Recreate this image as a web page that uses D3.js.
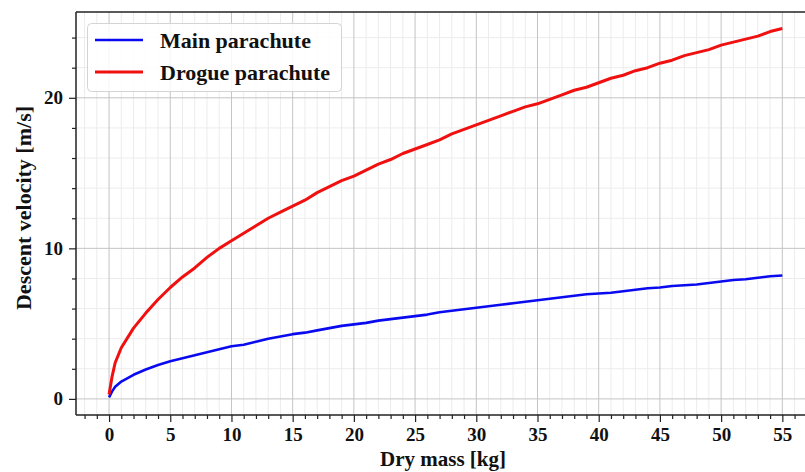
<!DOCTYPE html>
<html><head><meta charset="utf-8">
<script src="https://cdn.jsdelivr.net/npm/d3@7"></script>
<style>body{margin:0;background:#fff}svg{display:block}</style>
</head><body><svg id="c" width="805" height="472"></svg>
<script>
const mass = [0,0.25,0.5,1,2,3,4,5,6,7,8,9,10,11,12,13,14,15,16,17,18,19,20,21,22,23,24,25,26,27,28,29,30,31,32,33,34,35,36,37,38,39,40,41,42,43,44,45,46,47,48,49,50,51,52,53,54,55];
const mainVel = [0.1,0.5,0.8,1.15,1.6,1.95,2.25,2.5,2.7,2.9,3.1,3.3,3.5,3.6,3.8,4.0,4.15,4.3,4.4,4.55,4.7,4.85,4.95,5.05,5.2,5.3,5.4,5.5,5.6,5.75,5.85,5.95,6.05,6.15,6.25,6.35,6.45,6.55,6.65,6.75,6.85,6.95,7.0,7.05,7.15,7.25,7.35,7.4,7.5,7.55,7.6,7.7,7.8,7.9,7.95,8.05,8.15,8.2];
const drogueVel = [0.3,1.5,2.4,3.4,4.7,5.7,6.6,7.4,8.1,8.7,9.4,10.0,10.5,11.0,11.5,12.0,12.4,12.8,13.2,13.7,14.1,14.5,14.8,15.2,15.6,15.9,16.3,16.6,16.9,17.2,17.6,17.9,18.2,18.5,18.8,19.1,19.4,19.6,19.9,20.2,20.5,20.7,21.0,21.3,21.5,21.8,22.0,22.3,22.5,22.8,23.0,23.2,23.5,23.7,23.9,24.1,24.4,24.6];
const xTicks = [0,5,10,15,20,25,30,35,40,45,50,55];
const yTicks = [0,10,20];
const seriesNames = ["Main parachute","Drogue parachute"];
const seriesColors = ["#0a0af0","#f01010"];

const svg = d3.select("#c");
const L=76, R=816, T=12, B=415;
const x = d3.scaleLinear().domain([-2.7,57.75]).range([L,R]);
const y = d3.scaleLinear().domain([-1.07,25.7]).range([B,T]);
const font = "'Liberation Serif','Times New Roman',serif";

svg.append("defs").append("clipPath").attr("id","clip").append("rect")
  .attr("x",L).attr("y",T).attr("width",R-L).attr("height",B-T);

const g = svg.append("g");
// minor grid
const xMinor = d3.range(-2,58,1).filter(v=>v%5!==0);
const yMinor = d3.range(-0,26,2).filter(v=>v%10!==0);
g.selectAll(".xm").data(xMinor).join("line").attr("x1",d=>x(d)).attr("x2",d=>x(d)).attr("y1",T).attr("y2",B)
  .attr("stroke","#ececec").attr("stroke-width",1);
g.selectAll(".ym").data(yMinor).join("line").attr("y1",d=>y(d)).attr("y2",d=>y(d)).attr("x1",L).attr("x2",R)
  .attr("stroke","#ececec").attr("stroke-width",1);
// major grid
g.selectAll(".xM").data(xTicks).join("line").attr("x1",d=>x(d)).attr("x2",d=>x(d)).attr("y1",T).attr("y2",B)
  .attr("stroke","#c4c4c4").attr("stroke-width",1);
g.selectAll(".yM").data(yTicks).join("line").attr("y1",d=>y(d)).attr("y2",d=>y(d)).attr("x1",L).attr("x2",R)
  .attr("stroke","#c4c4c4").attr("stroke-width",1);

// lines
const line = d3.line().x((d,i)=>x(mass[i])).y(d=>y(d));
const lg = svg.append("g").attr("clip-path","url(#clip)");
lg.append("path").datum(mainVel).attr("d",line).attr("fill","none").attr("stroke",seriesColors[0]).attr("stroke-width",2.6).attr("stroke-linejoin","round");
lg.append("path").datum(drogueVel).attr("d",line).attr("fill","none").attr("stroke",seriesColors[1]).attr("stroke-width",3).attr("stroke-linejoin","round");

// axes
const xAxis = d3.axisBottom(x).tickValues(xTicks).tickSize(7).tickPadding(6).tickFormat(d3.format("d"));
const xa = svg.append("g").attr("transform",`translate(0,${B})`).call(xAxis);
const xMinorAxis = d3.axisBottom(x).tickValues(xMinor).tickSize(4).tickFormat("");
svg.append("g").attr("transform",`translate(0,${B})`).call(xMinorAxis).call(s=>s.select(".domain").remove());
const yAxis = d3.axisLeft(y).tickValues(yTicks).tickSize(7).tickPadding(6).tickFormat(d3.format("d"));
const ya = svg.append("g").attr("transform",`translate(${L},0)`).call(yAxis);
const yMinorAxis = d3.axisLeft(y).tickValues(yMinor).tickSize(4).tickFormat("");
svg.append("g").attr("transform",`translate(${L},0)`).call(yMinorAxis).call(s=>s.select(".domain").remove());
svg.selectAll(".tick line").attr("stroke","#222").attr("stroke-width",1.2);
[xa,ya].forEach(a=>{a.select(".domain").remove();
  a.selectAll("text").attr("font-family",font).attr("font-weight","bold").attr("font-size",19).attr("fill","#111");});
// spines
svg.append("line").attr("x1",L).attr("x2",L).attr("y1",T).attr("y2",B).attr("stroke","#222").attr("stroke-width",1.5);
svg.append("line").attr("x1",L).attr("x2",R).attr("y1",B).attr("y2",B).attr("stroke","#222").attr("stroke-width",1.5);
svg.append("line").attr("x1",L).attr("x2",R).attr("y1",T).attr("y2",T).attr("stroke","#222").attr("stroke-width",1.5);

// axis labels
svg.append("text").attr("x",443).attr("y",466).attr("text-anchor","middle")
  .attr("font-family",font).attr("font-weight","bold").attr("font-size",21).attr("fill","#111").text("Dry mass [kg]");
svg.append("text").attr("transform","translate(31,208) rotate(-90)").attr("text-anchor","middle")
  .attr("font-family",font).attr("font-weight","bold").attr("font-size",22).attr("fill","#111").text("Descent velocity [m/s]");

// legend
const leg = svg.append("g");
leg.append("rect").attr("x",87.5).attr("y",23.5).attr("width",254).attr("height",68).attr("rx",4)
  .attr("fill","#fff").attr("fill-opacity",0.85).attr("stroke","#d4d4d4").attr("stroke-width",1);
const ly = [40,72];
seriesNames.forEach((n,i)=>{
  leg.append("line").attr("x1",95).attr("x2",143).attr("y1",ly[i]).attr("y2",ly[i])
    .attr("stroke",seriesColors[i]).attr("stroke-width",i===0?2.6:3);
  leg.append("text").attr("x",160).attr("y",ly[i]+8).attr("font-family",font).attr("font-weight","bold")
    .attr("font-size",22).attr("fill","#111").text(n);
});
</script></body></html>
